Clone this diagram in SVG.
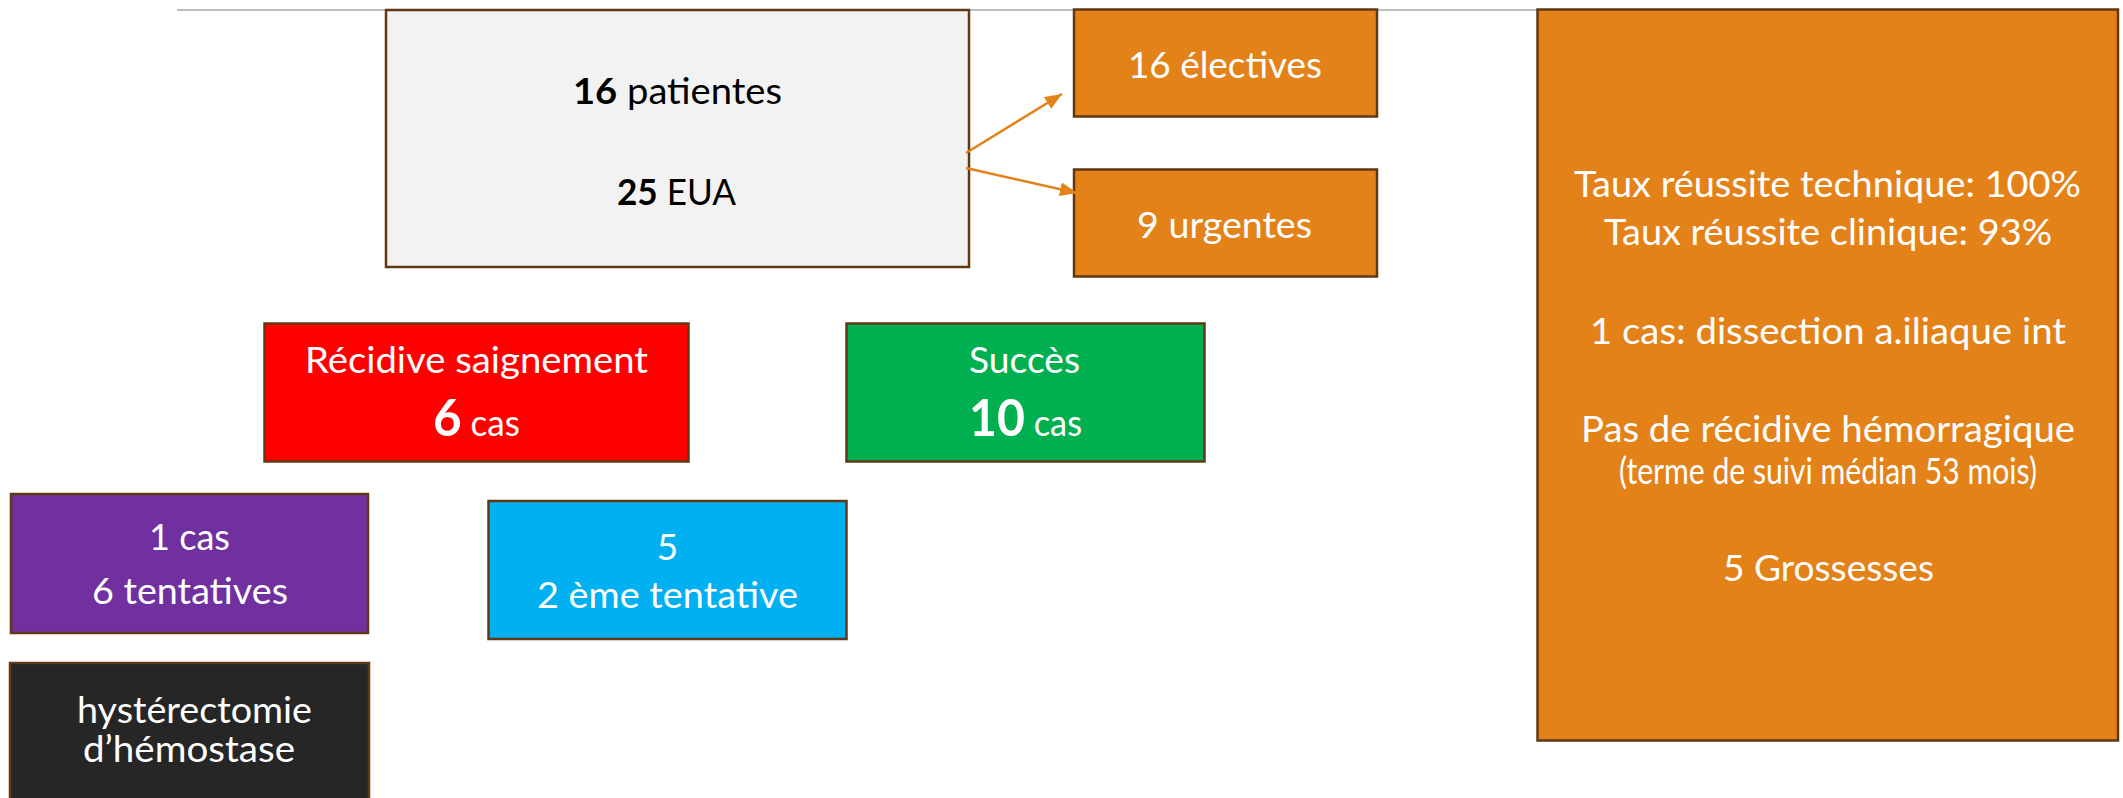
<svg xmlns="http://www.w3.org/2000/svg" width="2123" height="798" viewBox="0 0 2123 798">
<style>
.box{stroke:#603813;stroke-width:2.5}
.t{font-family:Lato,"Open Sans","DejaVu Sans",sans-serif;fill:#ffffff;font-size:37px}
.dk{fill:#000000}
.b{font-weight:bold}
.conn{stroke:#E4821A;stroke-width:2.5;fill:none}
</style>
<defs>
<marker id="ah" markerUnits="userSpaceOnUse" markerWidth="18" markerHeight="14" refX="17" refY="7" orient="auto">
<path d="M0,0 L17,7 L0,14 z" fill="#E4821A"/>
</marker>
</defs>
<rect width="2123" height="798" fill="#ffffff"/>
<line x1="177" y1="10" x2="1537" y2="10" stroke="#bfbfbf" stroke-width="2"/>

<g id="main">
<rect class="box" x="386" y="10" width="583" height="257" fill="#f2f2f2"/>
<text class="t dk" x="573" y="104" font-size="39" textLength="209" lengthAdjust="spacingAndGlyphs"><tspan class="b">16</tspan> patientes</text>
<text class="t dk" x="617" y="205" font-size="39" textLength="119" lengthAdjust="spacingAndGlyphs"><tspan class="b">25</tspan> EUA</text>
</g>

<g id="electives">
<rect class="box" x="1074" y="9.5" width="303" height="107" fill="#E4821A"/>
<text class="t" x="1128" y="78" textLength="194" lengthAdjust="spacingAndGlyphs">16 électives</text>
</g>

<g id="urgentes">
<rect class="box" x="1074" y="169.5" width="303" height="107" fill="#E4821A"/>
<text class="t" x="1137" y="238" textLength="175" lengthAdjust="spacingAndGlyphs">9 urgentes</text>
</g>

<g id="resultats">
<rect class="box" x="1537.5" y="9.5" width="580.5" height="731" fill="#E4821A"/>
<text class="t" x="1574" y="197" textLength="507" lengthAdjust="spacingAndGlyphs">Taux réussite technique: 100%</text>
<text class="t" x="1604" y="245" textLength="448" lengthAdjust="spacingAndGlyphs">Taux réussite clinique: 93%</text>
<text class="t" x="1590" y="344" textLength="476" lengthAdjust="spacingAndGlyphs">1 cas: dissection a.iliaque int</text>
<text class="t" x="1581" y="442" textLength="494" lengthAdjust="spacingAndGlyphs">Pas de récidive hémorragique</text>
<text class="t" x="1619" y="484" font-size="25" textLength="418" lengthAdjust="spacingAndGlyphs">(terme de suivi médian 53 mois)</text>
<text class="t" x="1723" y="581" textLength="211" lengthAdjust="spacingAndGlyphs">5 Grossesses</text>
</g>

<g id="recidive">
<rect class="box" x="264.5" y="323.5" width="424" height="138" fill="#ff0000"/>
<text class="t" x="305" y="373" textLength="343" lengthAdjust="spacingAndGlyphs">Récidive saignement</text>
<text class="t" x="433" y="436" textLength="87" lengthAdjust="spacingAndGlyphs"><tspan class="b" font-size="52">6</tspan> cas</text>
</g>

<g id="succes">
<rect class="box" x="846.5" y="323.5" width="358" height="138" fill="#00b050"/>
<text class="t" x="969" y="373" textLength="111" lengthAdjust="spacingAndGlyphs">Succès</text>
<text class="t" x="969" y="436" textLength="113" lengthAdjust="spacingAndGlyphs"><tspan class="b" font-size="52">10</tspan> cas</text>
</g>

<g id="tentatives6">
<rect class="box" x="11" y="494" width="357" height="139" fill="#7030a0"/>
<text class="t" x="149" y="550" textLength="81" lengthAdjust="spacingAndGlyphs">1 cas</text>
<text class="t" x="92" y="604" textLength="196" lengthAdjust="spacingAndGlyphs">6 tentatives</text>
</g>

<g id="tentative2">
<rect class="box" x="488.5" y="501" width="358" height="138" fill="#00b0f0"/>
<text class="t" x="667.5" y="560" text-anchor="middle">5</text>
<text class="t" x="537" y="608" textLength="261" lengthAdjust="spacingAndGlyphs">2 ème tentative</text>
</g>

<g id="hysterectomie">
<rect class="box" x="10" y="663" width="359" height="150" fill="#262626"/>
<text class="t" x="77" y="723" font-size="35" textLength="235" lengthAdjust="spacingAndGlyphs">hystérectomie</text>
<text class="t" x="83" y="762" font-size="35" textLength="212" lengthAdjust="spacingAndGlyphs">d’hémostase</text>
</g>

<g id="connectors">
<line class="conn" x1="966" y1="153" x2="1062" y2="94" marker-end="url(#ah)"/>
<line class="conn" x1="966" y1="168" x2="1077" y2="193" marker-end="url(#ah)"/>
</g>
</svg>
